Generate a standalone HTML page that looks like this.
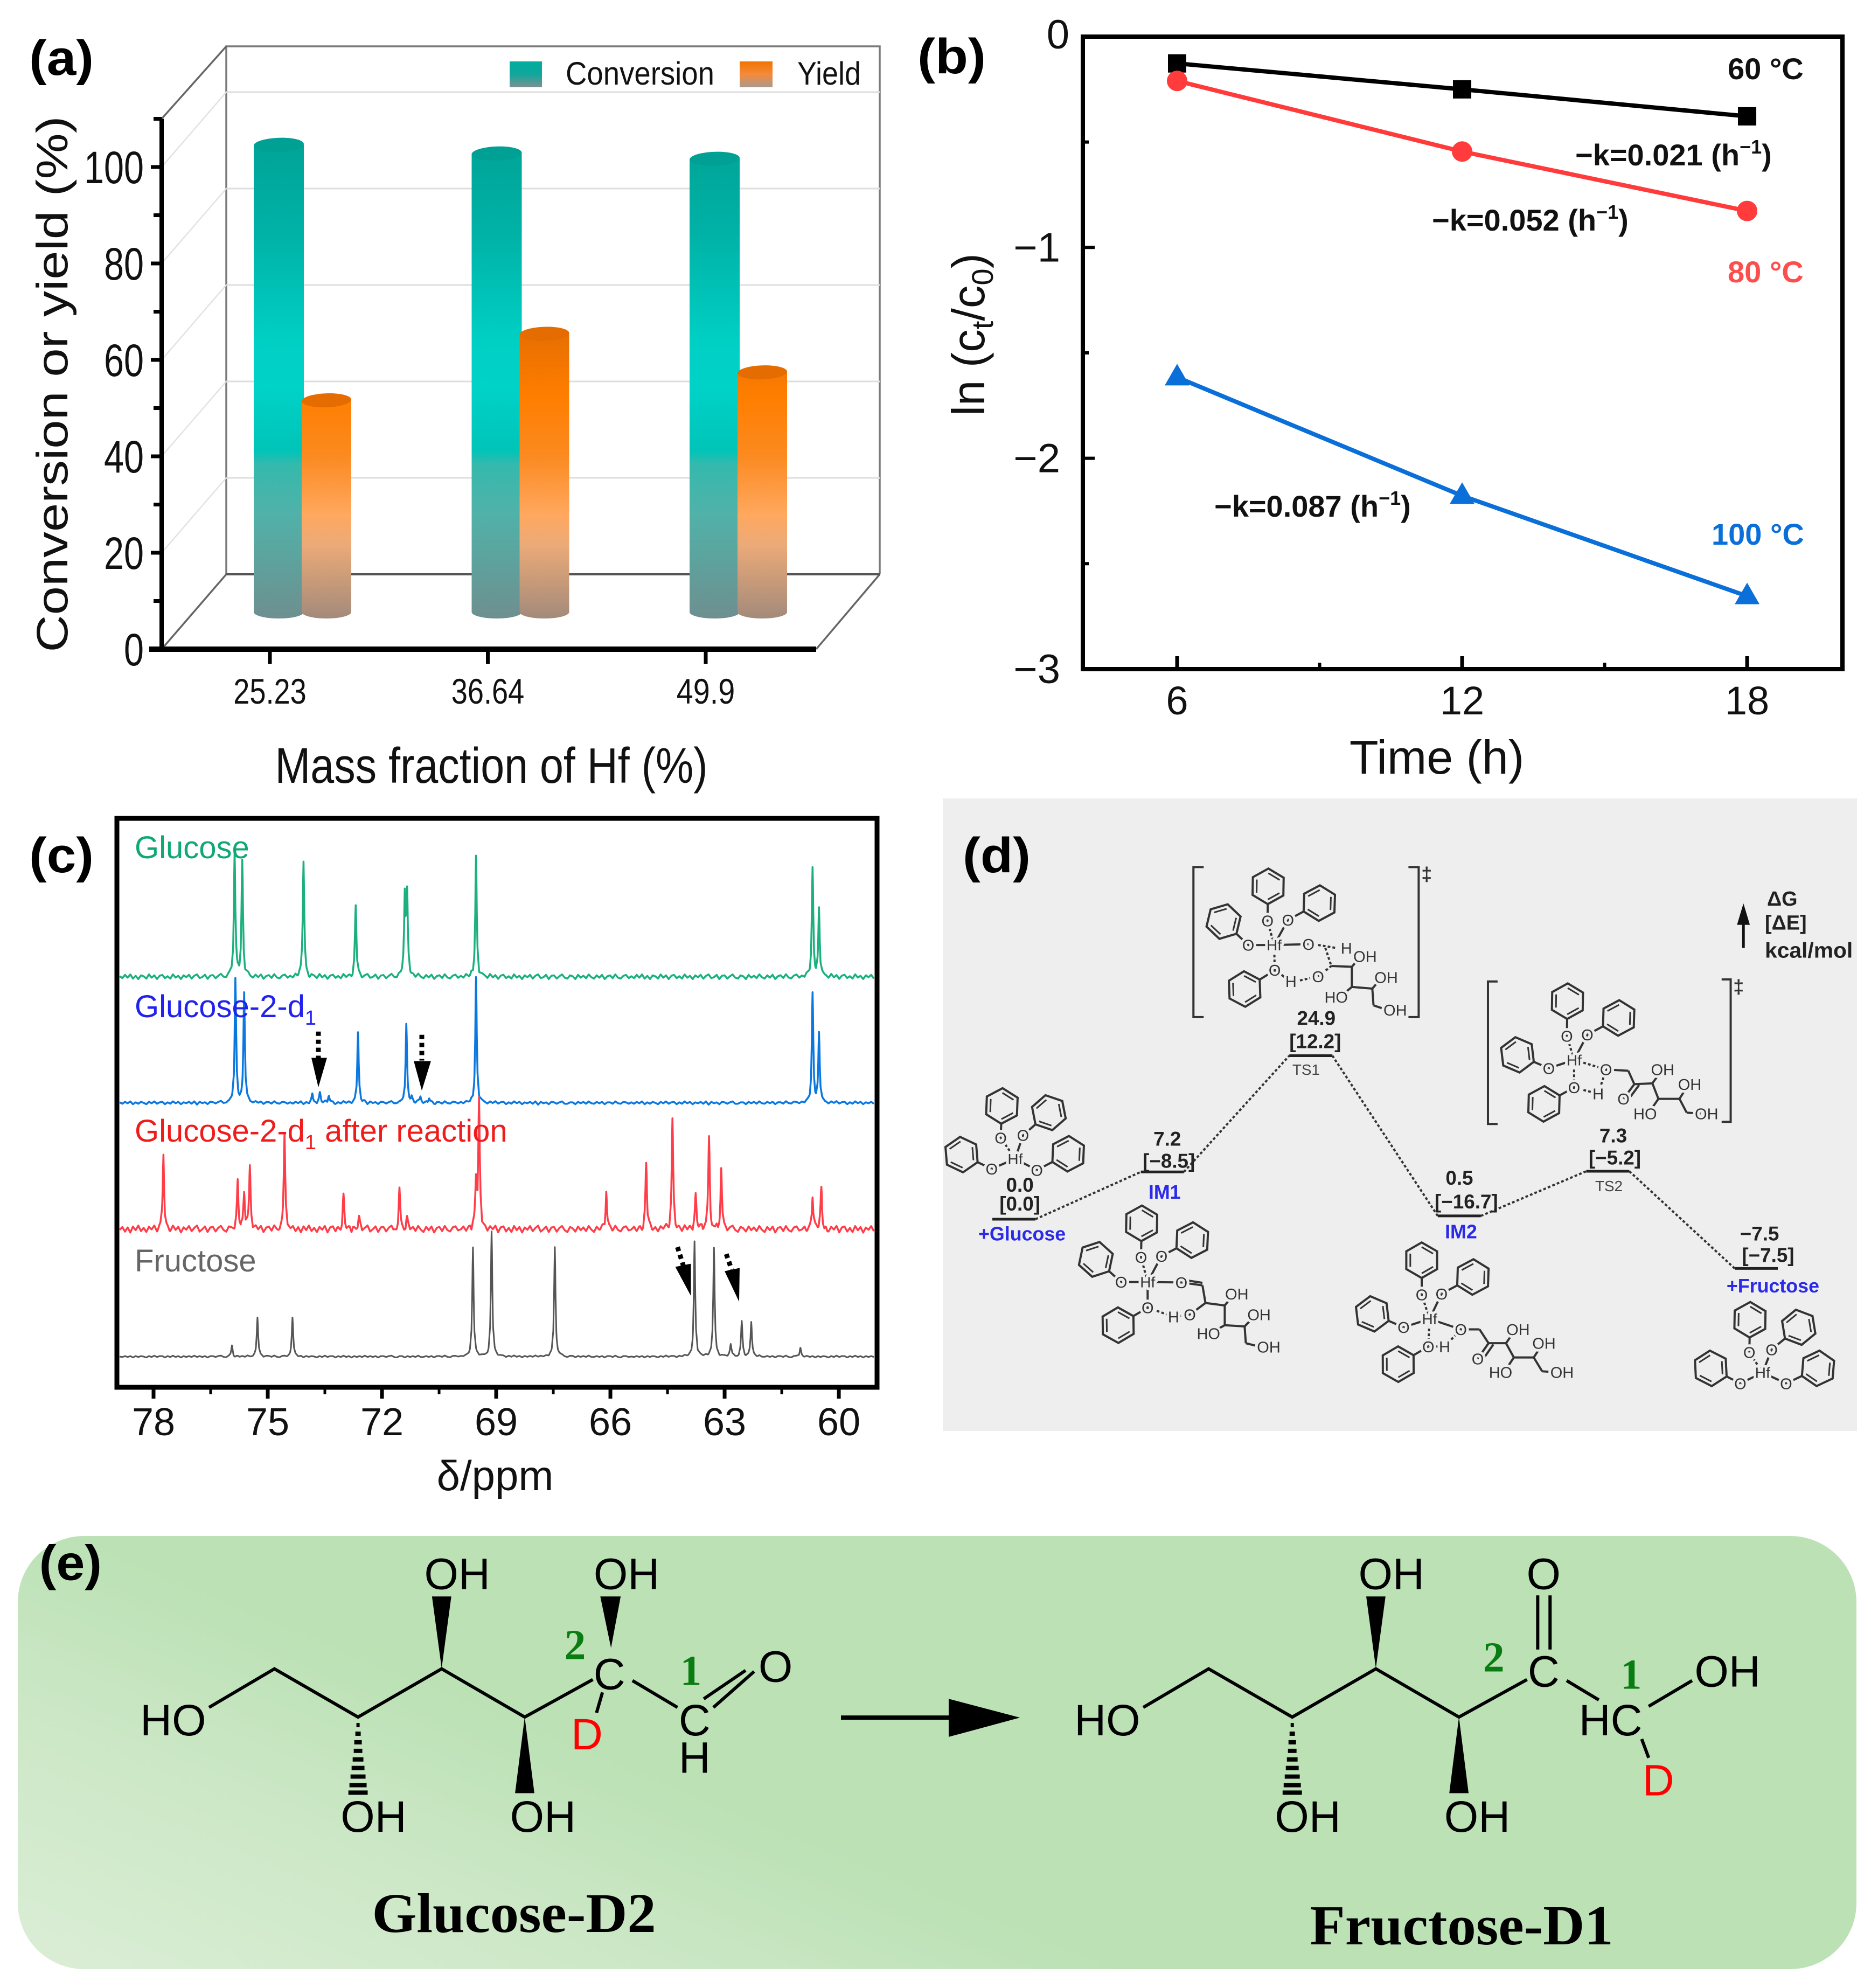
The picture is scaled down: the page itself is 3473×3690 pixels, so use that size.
<!DOCTYPE html>
<html lang="en">
<head>
<meta charset="utf-8">
<title>Hf catalyst figure: conversion, kinetics, NMR, energy profile and isotopic mechanism</title>
<style>
html,body{margin:0;padding:0;background:#fff;}
svg{display:block;}
text{font-family:"Liberation Sans",sans-serif;}
.serif{font-family:"Liberation Serif",serif;}
.atom{font-size:82px;fill:#000;text-anchor:middle;}
.num{font-family:"Liberation Serif",serif;font-weight:bold;font-size:80px;fill:#0a7d12;text-anchor:middle;}
.en{font-size:37px;font-weight:bold;fill:#222;text-anchor:middle;}
.st{font-size:36px;font-weight:bold;fill:#2a2ae8;text-anchor:middle;}
.ts{font-size:28px;fill:#444;text-anchor:middle;}
.ann{font-size:56px;font-weight:bold;fill:#111;}
.panel{font-size:92px;font-weight:bold;fill:#000;}
</style>
</head>
<body>
<svg id="figure" xmlns="http://www.w3.org/2000/svg" width="3473" height="3690" viewBox="0 0 3473 3690">
<defs>
  <linearGradient id="gConv" gradientUnits="userSpaceOnUse" x1="0" y1="256" x2="0" y2="1148">
    <stop offset="0" stop-color="#00a396"/><stop offset="0.2" stop-color="#00b2a6"/><stop offset="0.42" stop-color="#00cfc4"/><stop offset="0.52" stop-color="#00d2c8"/><stop offset="0.65" stop-color="#00c4b8"/><stop offset="0.68" stop-color="#35b9ad"/><stop offset="0.78" stop-color="#50b2a9"/><stop offset="1" stop-color="#6e8f8f"/>
  </linearGradient>
  <linearGradient id="gYield" gradientUnits="userSpaceOnUse" x1="0" y1="600" x2="0" y2="1148">
    <stop offset="0" stop-color="#e46c00"/><stop offset="0.25" stop-color="#ff7e00"/><stop offset="0.45" stop-color="#fb8a20"/><stop offset="0.65" stop-color="#ffa85f"/><stop offset="0.75" stop-color="#ecaa78"/><stop offset="1" stop-color="#a38a7a"/>
  </linearGradient>
  <linearGradient id="gSwC" x1="0" y1="0" x2="0" y2="1">
    <stop offset="0" stop-color="#00ad9f"/><stop offset="0.5" stop-color="#10a79c"/><stop offset="1" stop-color="#7f9090"/>
  </linearGradient>
  <linearGradient id="gSwY" x1="0" y1="0" x2="0" y2="1">
    <stop offset="0" stop-color="#f07400"/><stop offset="0.5" stop-color="#f58a3a"/><stop offset="1" stop-color="#a89a90"/>
  </linearGradient>
  <linearGradient id="gPanelE" gradientUnits="userSpaceOnUse" x1="33" y1="3655" x2="390" y2="2790">
    <stop offset="0" stop-color="#dbeed6"/><stop offset="0.5" stop-color="#cbe7c5"/><stop offset="0.85" stop-color="#bbe1b5"/>
  </linearGradient>
</defs>

<!-- PANEL A -->
<g id="panelA"></g>
<text class="panel" x="54" y="139" textLength="120" lengthAdjust="spacingAndGlyphs">(a)</text>
<text transform="translate(125 713) rotate(-90)" font-size="82" text-anchor="middle" textLength="995" lengthAdjust="spacingAndGlyphs" fill="#111">Conversion or yield (%)</text>
<text x="912" y="1453" font-size="93" text-anchor="middle" textLength="803" lengthAdjust="spacingAndGlyphs" fill="#111">Mass fraction of Hf (%)</text>
<rect x="946" y="114" width="60" height="48" fill="url(#gSwC)"/>
<text x="1050" y="157" font-size="60" textLength="276" lengthAdjust="spacingAndGlyphs" fill="#111">Conversion</text>
<rect x="1373" y="114" width="61" height="48" fill="url(#gSwY)"/>
<text x="1480" y="157" font-size="60" textLength="118" lengthAdjust="spacingAndGlyphs" fill="#111">Yield</text>

<!-- PANEL B -->
<g id="panelB"></g>
<text class="panel" x="1703" y="136" textLength="127" lengthAdjust="spacingAndGlyphs">(b)</text>
<text transform="translate(1827 621) rotate(-90)" font-size="85" text-anchor="middle" fill="#111">ln (c<tspan font-size="56" dy="16">t</tspan><tspan dy="-16">/c</tspan><tspan font-size="56" dy="16">0</tspan><tspan dy="-16">)</tspan></text>
<text x="2667" y="1436" font-size="88" text-anchor="middle" fill="#111">Time (h)</text>
<text class="ann" x="3207" y="147">60 °C</text>
<text class="ann" x="3207" y="524" style="fill:#ff4d4d">80 °C</text>
<text class="ann" x="3177" y="1011" style="fill:#0a6fd8">100 °C</text>
<text class="ann" x="2924" y="307">−k=0.021 (h<tspan font-size="36" dy="-22">−1</tspan><tspan dy="22">)</tspan></text>
<text class="ann" x="2658" y="428">−k=0.052 (h<tspan font-size="36" dy="-22">−1</tspan><tspan dy="22">)</tspan></text>
<text class="ann" x="2254" y="959">−k=0.087 (h<tspan font-size="36" dy="-22">−1</tspan><tspan dy="22">)</tspan></text>

<!-- PANEL C -->
<g id="panelC"></g>
<text class="panel" x="54" y="1619" textLength="120" lengthAdjust="spacingAndGlyphs">(c)</text>
<text x="919" y="2766" font-size="78" text-anchor="middle" fill="#111">δ/ppm</text>
<text x="250" y="1593" font-size="58" fill="#10a874">Glucose</text>
<text x="250" y="1888" font-size="58" fill="#2222ee">Glucose-2-d<tspan font-size="38" dy="14">1</tspan></text>
<text x="250" y="2119" font-size="58" fill="#f01c1c">Glucose-2-d<tspan font-size="38" dy="14">1</tspan><tspan dy="-14"> after reaction</tspan></text>
<text x="250" y="2360" font-size="58" fill="#666">Fructose</text>
<g fill="#000" stroke="none" transform="translate(0 1480) scale(.9949) translate(0 -1480)">
  <line x1="594" y1="1917" x2="594" y2="1966" stroke="#000" stroke-width="9" stroke-dasharray="8 7"/><polygon points="581,1966 610,1966 594,2021"/>
  <line x1="787" y1="1923" x2="787" y2="1971" stroke="#000" stroke-width="9" stroke-dasharray="8 7"/><polygon points="772,1972 804,1972 787,2027"/>
  <line x1="1264" y1="2319" x2="1275" y2="2354" stroke="#000" stroke-width="9" stroke-dasharray="8 7"/><polygon points="1260,2356 1289,2350 1289,2410"/>
  <line x1="1355" y1="2332" x2="1365" y2="2361" stroke="#000" stroke-width="9" stroke-dasharray="8 7"/><polygon points="1352,2364 1380,2358 1379,2421"/>
</g>

<!-- PANEL D -->
<rect x="1750" y="1482" width="1697" height="1174" fill="#eeeeee"/>
<g id="panelD"></g>
<text class="panel" x="1787" y="1619" textLength="126" lengthAdjust="spacingAndGlyphs">(d)</text>
<g transform="translate(1720 1460) scale(.9949) translate(-1720 -1460)">
  <text class="en" x="1894" y="2216">0.0</text><text class="en" x="1894" y="2251">[0.0]</text><text class="st" x="1898" y="2307">+Glucose</text>
  <text class="en" x="2169" y="2130">7.2</text><text class="en" x="2172" y="2171">[−8.5]</text><text class="st" x="2164" y="2229">IM1</text>
  <text class="en" x="2447" y="1905">24.9</text><text class="en" x="2445" y="1948">[12.2]</text><text class="ts" x="2428" y="1998">TS1</text>
  <text class="en" x="2714" y="2203">0.5</text><text class="en" x="2727" y="2247">[−16.7]</text><text class="st" x="2717" y="2303">IM2</text>
  <text class="en" x="3001" y="2124">7.3</text><text class="en" x="3004" y="2165">[−5.2]</text><text class="ts" x="2993" y="2215">TS2</text>
  <text class="en" x="3274" y="2307">−7.5</text><text class="en" x="3290" y="2347">[−7.5]</text><text class="st" x="3299" y="2404">+Fructose</text>
  <text x="3288" y="1682" font-size="38" font-weight="bold" fill="#222">ΔG</text>
  <text x="3284" y="1727" font-size="38" font-weight="bold" fill="#222">[ΔE]</text>
  <text x="3284" y="1779" font-size="40" font-weight="bold" fill="#222" textLength="164" lengthAdjust="spacingAndGlyphs">kcal/mol</text>
  <text x="2653" y="1636" font-size="36" font-weight="bold" fill="#333" text-anchor="middle">‡</text>
  <text x="3235" y="1846" font-size="36" font-weight="bold" fill="#333" text-anchor="middle">‡</text>
</g>
<g transform="translate(1720 1460) scale(.9949) translate(-1720 -1460)"><line x1="3244" y1="1761" x2="3244" y2="1700" stroke="#111" stroke-width="5"/><polygon points="3244,1678 3232,1718 3256,1718" fill="#111"/></g>

<!-- PANEL E -->
<rect x="33" y="2851" width="3413" height="804" rx="123" ry="123" fill="url(#gPanelE)"/>
<g transform="translate(0 2820) scale(.9949) translate(0 -2820)">
<text class="panel" x="73" y="2933" textLength="117" lengthAdjust="spacingAndGlyphs">(e)</text>
<g id="hashL" stroke="#000" stroke-width="8">
  <line x1="665" x2="671" y1="3204" y2="3204"/><line x1="663" x2="673" y1="3220" y2="3220"/><line x1="661" x2="675" y1="3236" y2="3236"/><line x1="660" x2="676" y1="3252" y2="3252"/><line x1="658" x2="678" y1="3268" y2="3268"/><line x1="656" x2="680" y1="3284" y2="3284"/><line x1="654" x2="682" y1="3300" y2="3300"/><line x1="652" x2="684" y1="3316" y2="3316"/><line x1="650" x2="686" y1="3330" y2="3330"/>
</g>
<g id="wedgesL" fill="#000">
  <polygon points="824,3098 806,2964 842,2964"/><polygon points="979,3189 961,3331 997,3331"/>
</g>
<polygon points="1140,3060 1120,2964 1158,2964" fill="#000"/>
<g fill="none" stroke="#000" stroke-width="6">
  <polyline points="390,3171 512,3099 668,3189 824,3099 979,3189 1106,3119"/>
  <line x1="1180" y1="3121" x2="1264" y2="3171"/>
  <line x1="1331" y1="3171" x2="1407" y2="3104"/><line x1="1313" y1="3155" x2="1391" y2="3102"/>
  <line x1="1124" y1="3143" x2="1113" y2="3181"/>
</g>
<g>
  <text class="atom" x="323" y="3223">HO</text><text class="atom" x="853" y="2950">OH</text><text class="atom" x="1169" y="2950">OH</text>
  <text class="atom" x="697" y="3403">OH</text><text class="atom" x="1013" y="3403">OH</text><text class="atom" x="1137" y="3137">C</text>
  <text class="atom" x="1296" y="3223">C</text><text class="atom" x="1296" y="3293">H</text><text class="atom" x="1447" y="3123">O</text>
  <text class="atom" x="1095" y="3249" style="fill:#f00">D</text>
  <text class="num" x="1073" y="3081">2</text><text class="num" x="1289" y="3129">1</text>
</g>
<g><line x1="1569" y1="3190" x2="1781" y2="3190" stroke="#000" stroke-width="8"/><polygon points="1770,3155 1903,3190 1770,3226" fill="#000"/></g>
<use href="#hashL" x="1743"/>
<use href="#wedgesL" x="1743"/>
<g fill="none" stroke="#000" stroke-width="6">
  <polyline points="2133,3171 2255,3099 2411,3189 2567,3099 2722,3189 2849,3119"/>
  <line x1="2923" y1="3121" x2="2983" y2="3157"/>
  <line x1="3076" y1="3169" x2="3157" y2="3121"/>
  <line x1="3063" y1="3230" x2="3076" y2="3265"/>
  <line x1="2869" y1="2962" x2="2869" y2="3063"/><line x1="2892" y1="2962" x2="2892" y2="3063"/>
</g>
<g>
  <text class="atom" x="2066" y="3223">HO</text><text class="atom" x="2596" y="2950">OH</text><text class="atom" x="2880" y="2950">O</text>
  <text class="atom" x="2440" y="3403">OH</text><text class="atom" x="2756" y="3403">OH</text><text class="atom" x="2880" y="3132">C</text>
  <text class="atom" x="3005" y="3223">HC</text><text class="atom" x="3223" y="3132">OH</text>
  <text class="atom" x="3094" y="3335" style="fill:#f00">D</text>
  <text class="num" x="2787" y="3104">2</text><text class="num" x="3043" y="3136">1</text>
</g>
<text class="serif" x="959" y="3590" font-size="104" font-weight="bold" text-anchor="middle" textLength="530" lengthAdjust="spacingAndGlyphs" fill="#000">Glucose-D2</text>
<text class="serif" x="2727" y="3613" font-size="105" font-weight="bold" text-anchor="middle" textLength="566" lengthAdjust="spacingAndGlyphs" fill="#000">Fructose-D1</text>
</g>

<script>
/* ---------- chart data ---------- */
const massFractions = ['25.23', '36.64', '49.9'];
const conversionValues = [96.9, 95.1, 94.0];
const yieldValues = [43.9, 57.7, 49.7];
const aTickLabels = [0, 20, 40, 60, 80, 100];
const aMinorTicks = [10, 30, 50, 70, 90, 110];

const timeHours = [6, 12, 18];
const ln60C = [-0.127, -0.25, -0.378];
const ln80C = [-0.21, -0.545, -0.827];
const ln100C = [-1.616, -2.178, -2.654];
const bYTicks = [0, -1, -2, -3];
const bYMinor = [-0.5, -1.5, -2.5];
const bXMinor = [9, 15];

const ppmTicks = [78, 75, 72, 69, 66, 63, 60];
const ppmMinor = [76.5, 73.5, 70.5, 67.5, 64.5, 61.5];
const glucosePpm = [75.87, 75.67, 74.06, 72.69, 71.40, 71.34, 69.53, 60.69, 60.52];
const glucoseInt = [272, 247, 252, 155, 175, 170, 259, 229, 144];
const glucoseD1Ppm = [75.85, 75.62, 73.83, 73.63, 73.40, 72.63, 71.36, 71.22, 70.99, 70.76, 69.53, 60.69, 60.52];
const glucoseD1Int = [270, 238, 18, 21, 16, 153, 168, 10, 14, 10, 270, 233, 148];
const afterPpm = [77.74, 75.79, 75.62, 75.47, 74.56, 73.01, 72.6, 71.54, 71.34, 69.53, 69.45, 66.11, 65.06, 64.37, 63.76, 63.41, 63.09, 60.69, 60.46];
const afterInt = [155, 100, 80, 137, 200, 70, 22, 85, 22, 102, 270, 78, 145, 235, 73, 192, 127, 75, 83];
const fructosePpm = [75.94, 75.27, 74.35, 69.61, 69.12, 67.46, 63.79, 63.28, 62.84, 62.55, 62.3, 61.01];
const fructoseInt = [23, 85, 85, 237, 270, 235, 247, 235, 25, 75, 75, 20];
const glucoseNoise = [1,-3,4,-2,5,-4,2,-5,3,1,-4,5,-2,3,-5,2,4,-3,1,-4,5,-2,2,-5,3,-1,4,-4,2,5,-3,-1,4,-5,2,3,-4,1,5,-2,-4,3,1,-5,4,-2,2,-3,5,-1,-4,3,-2,4,-5,1,3,-3,5,-2,-4,2,4,-3];
const glucoseD1Noise = [1,-2,2,-1,3,-3,1,-2,2,0,-3,2,-1,3,-2,1,2,-3,1,-2,3,-1,2,-3,1,-1,2,-2,3,-4,2,-1,1,-3,2,1,-2,1,3,-2,-2,1,1,-3,2,-1,2,-2,3,-1,-2,2,-1,2,-3,1,1,-2,3,-1,-2,2,1,-2];
const afterNoise = [-2,4,-6,3,-8,5,-3,7,-5,2,-7,4,-2,6,-8,3,5,-6,2,-7,6,-3,4,-8,3,-2,6,-5,2,7,-6,-1,5,-7,3,4,-6,2,6,-3,-7,4,1,-6,5,-3,3,-5,6,-2,-7,4,-3,5,-8,2,4,-5,6,-3,-6,3,5,-4];
const fructoseNoise = [0,-1,1,-1,1,-2,1,-1,1,0,-2,1,-1,2,-1,1,1,-2,1,-1,2,-1,1,-2,1,-1,1,-1,2,-1,1,-1,1,-2,1,1,-1,1,2,-1,-2,1,1,-2,1,-1,1,-1,2,-1,-1,1,-1,1,-2,1,1,-1,2,-1,-2,1,1,-1];

const stageNames = ['glucose', 'im1', 'ts1', 'im2', 'ts2', 'fructose'];
const stageIndex = [0, 1, 2, 3, 4, 5];
const deltaG = [0.0, 7.2, 24.9, 0.5, 7.3, -7.5];

/* ---------- helpers ---------- */
const NS = 'http://www.w3.org/2000/svg';
function mk(parent, tag, attrs, content) {
  const n = document.createElementNS(NS, tag);
  for (const k in attrs) n.setAttribute(k, attrs[k]);
  if (content !== undefined) n.textContent = content;
  parent.appendChild(n);
  return n;
}

/* ---------- panel A ---------- */
const gA = document.getElementById('panelA');
const yFrontA = v => 1205 - v * 8.95;
const yBarA = v => 1136 - v * 8.95;
const xCatA = i => 501 + i * 404.5;
const axisXpos = 300, depthX = 120, depthY = 139;
const wallL = axisXpos + depthX, wallR = 1633, wallTop = 86, frontR = 1515;

const wall = mk(gA, 'polyline', {points: `${wallL},${yFrontA(0)-depthY} ${wallL},${wallTop} ${wallR},${wallTop} ${wallR},${yFrontA(0)-depthY}`, fill: 'none', stroke: '#7a7a7a', 'stroke-width': 3.5});



aTickLabels.slice(1).forEach(v => {
  const g1 = mk(gA, 'line', {x1: wallL, x2: wallR, y1: yFrontA(v) - depthY, y2: yFrontA(v) - depthY, stroke: '#dedede', 'stroke-width': 3});
  
  
  const g2 = mk(gA, 'line', {x1: axisXpos, x2: wallL, y1: yFrontA(v), y2: yFrontA(v) - depthY, stroke: '#e2e2e2', 'stroke-width': 2.5});
  
  
});
[[axisXpos, yFrontA(110), wallL, wallTop], [axisXpos, yFrontA(0), wallL, yFrontA(0) - depthY], [frontR, yFrontA(0), wallR, yFrontA(0) - depthY]].forEach(c => {
  const e = mk(gA, 'line', {x1: c[0], y1: c[1], x2: c[2], y2: c[3], stroke: '#666', 'stroke-width': 3.5});
  
  
});
const floorLine = mk(gA, 'line', {x1: wallL, x2: wallR, y1: yFrontA(0) - depthY, y2: yFrontA(0) - depthY, stroke: '#555', 'stroke-width': 4});



function drawBar(i, value, dx, halfW, fill, capFill, name) {
  const cx = xCatA(i) + dx, top = yBarA(value), bot = yBarA(0);
  const body = mk(gA, 'path', {d: `M${cx-halfW},${top} L${cx-halfW},${bot} A${halfW},12 0 0 0 ${cx+halfW},${bot} L${cx+halfW},${top} Z`, fill: fill});
  
  
  const cap = mk(gA, 'ellipse', {cx: cx, cy: top, rx: halfW, ry: 13, fill: capFill, transform: `rotate(-2 ${cx} ${top})`});
  
  
}
massFractions.forEach((c, i) => {
  drawBar(i, conversionValues[i], 16.5, 46.5, 'url(#gConv)', '#00a094', 'conversion-bar');
  drawBar(i, yieldValues[i], 105, 46, 'url(#gYield)', '#e46c00', 'yield-bar');
});

const axisYA = mk(gA, 'line', {x1: axisXpos, x2: axisXpos, y1: yFrontA(110), y2: yFrontA(0), stroke: '#000', 'stroke-width': 8});


const axisXA = mk(gA, 'line', {x1: 277, x2: frontR, y1: yFrontA(0), y2: yFrontA(0), stroke: '#000', 'stroke-width': 10});


aTickLabels.forEach(v => {
  const t = mk(gA, 'line', {x1: 280, x2: axisXpos, y1: yFrontA(v), y2: yFrontA(v), stroke: '#000', 'stroke-width': 7});
  
  
  const l = mk(gA, 'text', {x: 267, y: yFrontA(v) + 30, 'font-size': 84, 'text-anchor': 'end', fill: '#111', textLength: String(v).length * 37, lengthAdjust: 'spacingAndGlyphs'}, String(v));
  
  
});
aMinorTicks.forEach(v => {
  const t = mk(gA, 'line', {x1: 285, x2: axisXpos, y1: yFrontA(v), y2: yFrontA(v), stroke: '#000', 'stroke-width': 7});
  
  
});
massFractions.forEach((c, i) => {
  const t = mk(gA, 'line', {x1: xCatA(i), x2: xCatA(i), y1: yFrontA(0), y2: 1232, stroke: '#000', 'stroke-width': 7});
  
  
  const l = mk(gA, 'text', {x: xCatA(i), y: 1306, 'font-size': 66, 'text-anchor': 'middle', fill: '#111', textLength: c.length * 27.1, lengthAdjust: 'spacingAndGlyphs'}, c);
  
  
});

/* ---------- panel B ---------- */
const gB = document.getElementById('panelB');
const xB = t => 2185 + (t - 6) * 88.17;
const yB = v => 68 - v * 391.3;
const frameB = mk(gB, 'rect', {x: 2010, y: 68, width: 1410, height: 1174, fill: 'none', stroke: '#000', 'stroke-width': 8});


bYTicks.forEach(v => {
  const t = mk(gB, 'line', {x1: 2010, x2: 2032, y1: yB(v), y2: yB(v), stroke: '#000', 'stroke-width': 6});
  
  
  const l = mk(gB, 'text', {x: v === 0 ? 1985 : 1968, y: yB(v) + (v === 0 ? 22 : 26), 'font-size': 76, 'text-anchor': 'end', fill: '#111'}, v === 0 ? '0' : '−' + Math.abs(v));
  
  
});
bYMinor.forEach(v => {
  const t = mk(gB, 'line', {x1: 2010, x2: 2021, y1: yB(v), y2: yB(v), stroke: '#000', 'stroke-width': 6});
  
  
});
timeHours.forEach(h => {
  const t = mk(gB, 'line', {x1: xB(h), x2: xB(h), y1: 1218, y2: 1242, stroke: '#000', 'stroke-width': 7});
  
  
  const l = mk(gB, 'text', {x: xB(h), y: 1326, 'font-size': 74, 'text-anchor': 'middle', fill: '#111'}, String(h));
  
  
});
bXMinor.forEach(h => {
  const t = mk(gB, 'line', {x1: xB(h), x2: xB(h), y1: 1230, y2: 1242, stroke: '#000', 'stroke-width': 6});
  
  
});
function drawKineticLine(values, color, shape, name) {
  const line = mk(gB, 'polyline', {points: timeHours.map((h, i) => xB(h) + ',' + yB(values[i])).join(' '), fill: 'none', stroke: color, 'stroke-width': 8});
  
  
  timeHours.forEach((h, i) => {
    const px = xB(h), py = yB(values[i]);
    let m;
    if (shape === 'square') m = mk(gB, 'rect', {x: px - 17, y: py - 17, width: 34, height: 34, fill: color});
    else if (shape === 'circle') m = mk(gB, 'circle', {cx: px, cy: py, r: 19, fill: color});
    else m = mk(gB, 'polygon', {points: `${px},${py-25} ${px-23},${py+15} ${px+23},${py+15}`, fill: color});
    
    
  });
}
drawKineticLine(ln60C, '#000000', 'square', 'series-60C');
drawKineticLine(ln80C, '#ff3b3b', 'circle', 'series-80C');
drawKineticLine(ln100C, '#0a6fd8', 'triangle', 'series-100C');

/* ---------- panel C ---------- */
const gC = document.getElementById('panelC');
const xC = p => 285 + (78 - p) * 70.67;
const intScale = 0.861;
function spectrumPath(ppm, intensity, noise, baseY) {
  const hi = 78.89, lo = 59.06, w = 0.022, step = 0.07;
  const samples = [];
  for (let p = hi; p > lo; p -= step) samples.push({p: p, n: noise[samples.length % noise.length]});
  const noiseNear = p => noise[Math.round((hi - p) / step) % noise.length];
  ppm.forEach(p0 => [0, 0.01, 0.02, 0.04, 0.08, 0.16].forEach(o => {
    samples.push({p: p0 + o, n: noiseNear(p0 + o)});
    samples.push({p: p0 - o, n: noiseNear(p0 - o)});
  }));
  samples.sort((a, b) => b.p - a.p);
  return samples.map((s, i) => {
    let v = s.n;
    ppm.forEach((p0, k) => { v += intensity[k] / (1 + Math.pow((s.p - p0) / w, 2)); });
    return (i ? 'L' : 'M') + xC(s.p).toFixed(1) + ',' + (baseY - v * intScale).toFixed(1);
  }).join(' ');
}
const specGlucose = mk(gC, 'path', {d: spectrumPath(glucosePpm, glucoseInt, glucoseNoise, 1813), fill: 'none', stroke: '#1bb07e', 'stroke-width': 3.5, 'stroke-linejoin': 'round'});


const specD1 = mk(gC, 'path', {d: spectrumPath(glucoseD1Ppm, glucoseD1Int, glucoseD1Noise, 2047), fill: 'none', stroke: '#0a78e0', 'stroke-width': 3.5, 'stroke-linejoin': 'round'});


const specAfter = mk(gC, 'path', {d: spectrumPath(afterPpm, afterInt, afterNoise, 2281), fill: 'none', stroke: '#ff3d48', 'stroke-width': 3.5, 'stroke-linejoin': 'round'});


const specFructose = mk(gC, 'path', {d: spectrumPath(fructosePpm, fructoseInt, fructoseNoise, 2518), fill: 'none', stroke: '#555555', 'stroke-width': 3, 'stroke-linejoin': 'round'});


const frameC = mk(gC, 'rect', {x: 217, y: 1519, width: 1411, height: 1056, fill: 'none', stroke: '#000', 'stroke-width': 9});


ppmTicks.forEach(p => {
  const t = mk(gC, 'line', {x1: xC(p), x2: xC(p), y1: 2575, y2: 2596, stroke: '#000', 'stroke-width': 7});
  
  
  const l = mk(gC, 'text', {x: xC(p), y: 2664, 'font-size': 72, 'text-anchor': 'middle', fill: '#111'}, String(p));
  
  
});
ppmMinor.forEach(p => {
  const t = mk(gC, 'line', {x1: xC(p), x2: xC(p), y1: 2575, y2: 2588, stroke: '#000', 'stroke-width': 5});
  
  
});

/* ---------- panel D ---------- */
const gD = document.getElementById('panelD');
const xD = s => 1882 + s * 275.6;
const yD = g => 2263 - g * 12.19;
stageIndex.forEach((s, i) => {
  const halfW = 40;
  if (i < stageIndex.length - 1) {
    const c = mk(gD, 'line', {x1: xD(s) + halfW, y1: yD(deltaG[i]), x2: xD(stageIndex[i + 1]) - halfW, y2: yD(deltaG[i + 1]), stroke: '#333', 'stroke-width': 4, 'stroke-dasharray': '5 4'});
    
    
  }
  const lv = mk(gD, 'line', {x1: xD(s) - halfW, y1: yD(deltaG[i]), x2: xD(s) + halfW, y2: yD(deltaG[i]), stroke: '#222', 'stroke-width': 5});
  
  
});

/* molecular sketches: coordinates given in a reference grid, mapped to pixels */
const mx = x => 1720 + x * 1.118;
const my = y => 1460 + y * 0.778;
function bond(x1, y1, x2, y2, dashed) {
  const b = mk(gD, 'line', {x1: mx(x1), y1: my(y1), x2: mx(x2), y2: my(y2), stroke: '#333', 'stroke-width': 4});
  if (dashed) b.setAttribute('stroke-dasharray', '5 4');
  
  
}
function atom(x, y, label, size) {
  const t = mk(gD, 'text', {x: mx(x), y: my(y) + (size || 29) * 0.36, 'font-size': size || 29, 'text-anchor': 'middle', fill: '#333', stroke: '#eeeeee', 'stroke-width': 10, 'paint-order': 'stroke', 'stroke-linejoin': 'round'}, label);
  
  
}
function ring(x, y, ox, oy) {
  const R = 33, cx = mx(x), cy = my(y);
  const a0 = Math.atan2(my(oy) - cy, mx(ox) - cx);
  const pts = [];
  for (let i = 0; i < 6; i++) pts.push([cx + R * Math.cos(a0 + i * Math.PI / 3), cy + R * Math.sin(a0 + i * Math.PI / 3)]);
  const hex = mk(gD, 'polygon', {points: pts.map(p => p.join(',')).join(' '), fill: 'none', stroke: '#333', 'stroke-width': 4});
  
  
  [1, 3, 5].forEach(k => {
    const p = pts[k], q = pts[(k + 1) % 6], f = 0.74;
    const kb = mk(gD, 'line', {x1: cx + (p[0] - cx) * f, y1: cy + (p[1] - cy) * f, x2: cx + (q[0] - cx) * f, y2: cy + (q[1] - cy) * f, stroke: '#333', 'stroke-width': 3});
    
    
  });
  const link = mk(gD, 'line', {x1: pts[0][0], y1: pts[0][1], x2: mx(ox), y2: my(oy), stroke: '#333', 'stroke-width': 4});
  
  
}
function hfCore(hx, hy, rings, oxy, dash) {
  oxy.forEach((o, i) => { bond(hx, hy, o[0], o[1], dash[i]); ring(rings[i][0], rings[i][1], o[0], o[1]); });
  oxy.forEach(o => atom(o[0], o[1], 'O'));
  atom(hx, hy, 'Hf', 28);
}
function chain(pts) { for (let i = 0; i < pts.length - 1; i++) bond(pts[i][0], pts[i][1], pts[i + 1][0], pts[i + 1][1]); }

/* reactant complex */
hfCore(147, 888, [[125,762],[203,778],[58,878],[235,876]], [[123,838],[160,832],[108,912],[183,915]], [1,0,0,0]);
/* TS1 */
bond(577,378,634,376); bond(650,378,680,385,1); bond(662,385,672,428,1); bond(650,453,672,428,1); bond(578,438,605,465); bond(612,465,650,453,1);
chain([[672,428],[706,430],[706,478],[740,482],[742,522],[765,533]]); bond(706,430,718,410); bond(740,482,752,462); bond(706,478,692,495);
hfCore(577, 378, [[567,238],[652,278],[493,322],[528,483]], [[566,320],[600,318],[534,378],[578,438]], [1,0,0,1]);
atom(634,376,'O'); atom(697,385,'H'); atom(650,453,'O'); atom(605,465,'H'); atom(728,405,'OH'); atom(763,455,'OH'); atom(680,502,'HO'); atom(778,533,'OH');
/* TS2 */
bond(1075,652,1128,675,1); bond(1075,718,1115,733,1); bond(1115,733,1128,675,1);
chain([[1128,675],[1165,678],[1175,710],[1205,708],[1215,745],[1250,745],[1262,778],[1285,780]]);
bond(1175,710,1157,745); bond(1183,712,1165,747); bond(1205,708,1215,688); bond(1250,745,1260,722); bond(1215,745,1203,770);
hfCore(1075, 652, [[1064,512],[1149,552],[981,640],[1025,757]], [[1063,595],[1097,592],[1033,672],[1075,718]], [1,0,0,1]);
atom(1128,675,'O'); atom(1115,733,'H'); atom(1157,745,'O'); atom(1222,675,'OH'); atom(1267,710,'OH'); atom(1193,780,'HO'); atom(1295,780,'OH');
/* IM1 */
bond(367,1182,423,1183); bond(367,1243,410,1265,1); bond(410,1265,437,1260,1);
bond(423,1183,458,1190); bond(423,1176,458,1184);
chain([[458,1190],[463,1232],[495,1238],[495,1285],[528,1288],[530,1328],[555,1337]]); bond(437,1260,463,1232); bond(495,1238,505,1220); bond(528,1288,540,1270); bond(495,1285,480,1297);
hfCore(367, 1182, [[357,1042],[441,1082],[281,1128],[318,1285]], [[356,1123],[390,1120],[323,1182],[367,1243]], [1,0,0,0]);
atom(423,1183,'O'); atom(410,1265,'H'); atom(437,1260,'O'); atom(515,1210,'OH'); atom(552,1260,'OH'); atom(468,1305,'HO'); atom(568,1337,'OH');
/* IM2 */
bond(835,1270,887,1295); bond(833,1336,860,1336); bond(860,1336,887,1295,1);
chain([[887,1295],[918,1295],[933,1328],[962,1328],[975,1362],[1008,1362],[1022,1395],[1043,1397]]);
bond(933,1328,915,1365); bond(941,1331,923,1368); bond(962,1328,973,1305); bond(1008,1362,1018,1340); bond(975,1362,963,1388);
hfCore(835, 1270, [[822,1130],[907,1170],[740,1258],[783,1378]], [[822,1212],[855,1210],[792,1290],[833,1336]], [1,0,0,1]);
atom(887,1295,'O'); atom(860,1336,'H'); atom(915,1365,'O'); atom(982,1295,'OH'); atom(1025,1328,'OH'); atom(953,1397,'HO'); atom(1055,1397,'OH');
/* product complex */
hfCore(1388, 1398, [[1367,1272],[1448,1290],[1302,1388],[1480,1388]], [[1366,1350],[1403,1343],[1351,1424],[1427,1424]], [1,0,0,0]);
/* brackets */
[[[460,192],[443,192],[443,550],[460,550]], [[800,192],[817,192],[817,550],[800,550]], [[948,465],[932,465],[932,805],[948,805]], [[1320,460],[1335,460],[1335,800],[1320,800]]].forEach(b => {
  const br = mk(gD, 'polyline', {points: b.map(p => mx(p[0]) + ',' + my(p[1])).join(' '), fill: 'none', stroke: '#333', 'stroke-width': 4});
  
  
});
</script>
</svg>
</body>
</html>
